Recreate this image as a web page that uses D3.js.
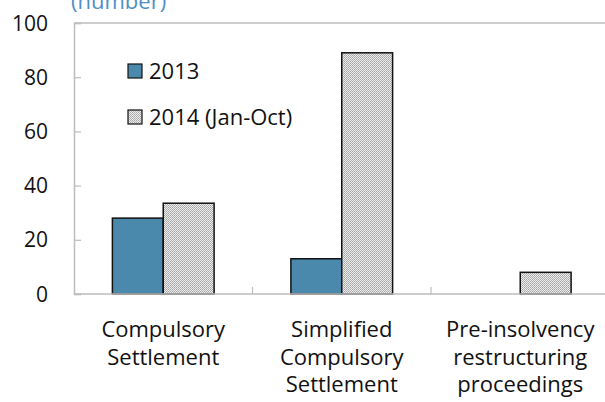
<!DOCTYPE html>
<html>
<head>
<meta charset="utf-8">
<script src="https://cdn.jsdelivr.net/npm/d3@7"></script>
<style>
  html, body { margin: 0; padding: 0; background: #fff; }
  svg { display: block; }
  text { font-family: "Open Sans", "Noto Sans", sans-serif; }
</style>
</head>
<body>
<svg id="chart" width="605" height="402"></svg>
<script>
// Insolvency-type proceedings by year (number)
const categories = [
  ["Compulsory", "Settlement"],
  ["Simplified", "Compulsory", "Settlement"],
  ["Pre-insolvency", "restructuring", "proceedings"]
];
const seriesNames = ["2013", "2014 (Jan-Oct)"];
const values2013 = [28, 13, 0];
const values2014 = [33.5, 89, 8];
const yTicks = [0, 20, 40, 60, 80, 100];
const unitLabel = "(number)";

const svg = d3.select("#chart");
const margin = { left: 74, top: 23, bottom: 108 };
const W = 605, H = 402;
const plotW = 535.5;
const plotH = H - margin.top - margin.bottom;

// fine stippled fill for the 2014 series
const defs = svg.append("defs");
const pat = defs.append("pattern")
  .attr("id", "hatch")
  .attr("patternUnits", "userSpaceOnUse")
  .attr("width", 2).attr("height", 2);
pat.append("rect").attr("width", 2).attr("height", 2).attr("fill", "#ececec");
pat.append("rect").attr("x", 0).attr("y", 0).attr("width", 1).attr("height", 1).attr("fill", "#a6a6a6");
pat.append("rect").attr("x", 1).attr("y", 1).attr("width", 1).attr("height", 1).attr("fill", "#b4b4b4");

const g = svg.append("g").attr("transform", `translate(${margin.left},${margin.top})`);

const x0 = d3.scaleBand().domain(d3.range(categories.length)).range([0, plotW]).paddingInner(0).paddingOuter(0);
const x1 = d3.scaleBand().domain([0, 1]).range([0, x0.bandwidth()]).paddingInner(0).paddingOuter(0.755);
const y = d3.scaleLinear().domain([0, 100]).range([plotH, 0]);

// frame: top border line
g.append("line")
  .attr("x1", 0).attr("x2", W - margin.left)
  .attr("y1", 0).attr("y2", 0)
  .attr("stroke", "#bdbdbd").attr("stroke-width", 1.5);

// bars
const fills = ["#4a89ab", "url(#hatch)"];
const seriesVals = [values2013, values2014];
seriesVals.forEach((vals, s) => {
  g.selectAll(null)
    .data(vals.map((v, i) => ({ v, i })).filter(d => d.v > 0))
    .enter().append("rect")
    .attr("x", d => x0(d.i) + x1(s))
    .attr("width", x1.bandwidth())
    .attr("y", d => y(d.v))
    .attr("height", d => y(0) - y(d.v))
    .attr("fill", fills[s])
    .attr("stroke", "#111")
    .attr("stroke-width", 1.5);
});

// y axis
const yAxis = d3.axisLeft(y).tickValues(yTicks).tickSize(-7).tickFormat(d3.format("d"));
const ya = g.append("g").call(yAxis);
ya.select(".domain").attr("stroke", "#bdbdbd").attr("stroke-width", 1.5);
ya.selectAll(".tick line").attr("stroke", "#bdbdbd").attr("stroke-width", 1.2);
ya.selectAll(".tick text").attr("font-size", 21).attr("fill", "#111")
  .attr("text-anchor", "end").attr("x", -26).attr("dy", "0.34em");

// x axis with separators between categories
const xa = g.append("g").attr("transform", `translate(0,${plotH})`);
xa.append("line").attr("x1", 0).attr("x2", plotW).attr("stroke", "#bdbdbd").attr("stroke-width", 1.5);
xa.selectAll(".sep")
  .data(d3.range(1, categories.length))
  .enter().append("line")
  .attr("x1", i => x0(i)).attr("x2", i => x0(i))
  .attr("y1", 0).attr("y2", -7)
  .attr("stroke", "#bdbdbd").attr("stroke-width", 1.2);

// category labels
categories.forEach((lines, i) => {
  const t = xa.append("text")
    .attr("text-anchor", "middle")
    .attr("font-size", 22)
    .attr("fill", "#111")
    .attr("transform", `translate(${x0(i) + x0.bandwidth() / 2},0)`);
  lines.forEach((ln, k) => {
    t.append("tspan").attr("x", 0).attr("y", 43 + k * 27.5).text(ln);
  });
});

// unit label at top-left
svg.append("text")
  .attr("x", 71).attr("y", 9)
  .attr("font-size", 22).attr("fill", "#4f8fc9")
  .text(unitLabel);

// legend
const legend = svg.append("g").attr("transform", "translate(128,64)");
seriesNames.forEach((name, s) => {
  const row = legend.append("g").attr("transform", `translate(0,${s * 46})`);
  row.append("rect").attr("width", 14).attr("height", 14)
    .attr("fill", fills[s]).attr("stroke", "#111").attr("stroke-width", 1.2);
  row.append("text").attr("x", 21).attr("y", 15)
    .attr("font-size", 22).attr("fill", "#111").text(name);
});
</script>
</body>
</html>
